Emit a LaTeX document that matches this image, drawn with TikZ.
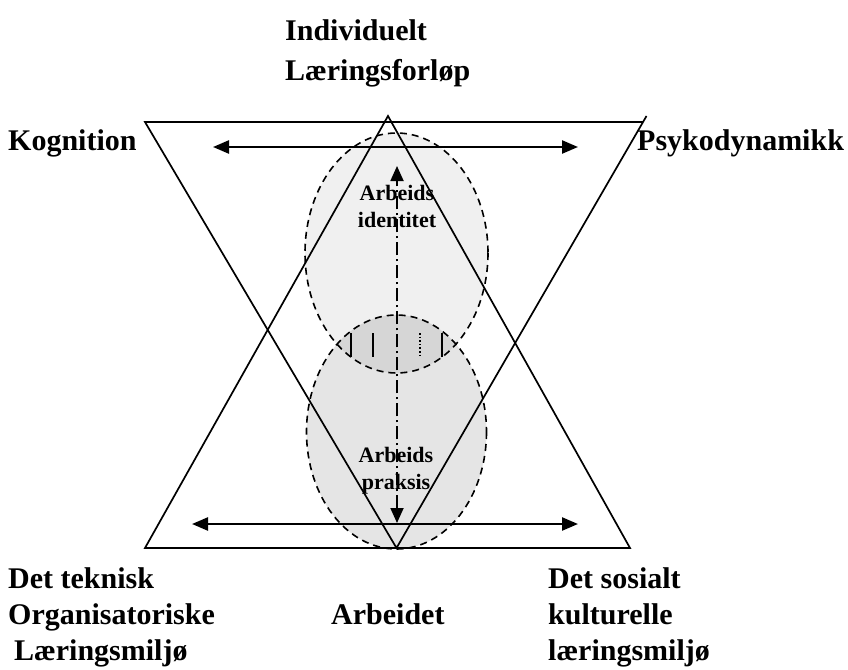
\documentclass[tikz,border=0pt]{standalone}
\usepackage{fontspec}
\setmainfont{Liberation Serif}
\usetikzlibrary{arrows.meta}
\begin{document}
\begin{tikzpicture}[x=1pt,y=-1pt,
  tri/.style={line width=1.7pt, line join=miter},
  dbl/.style={line width=2.4pt, {Triangle[length=16pt,width=13pt]}-{Triangle[length=16pt,width=13pt]}},
  vdbl/.style={line width=1.8pt, dash pattern=on 13pt off 4pt on 2pt off 4pt, {Triangle[length=15pt,width=13pt]}-{Triangle[length=15pt,width=13pt]}},
  ell/.style={dash pattern=on 7pt off 5pt, line width=1.6pt},
  lensline/.style={line width=1.6pt},
  big/.style={font=\bfseries\fontsize{30}{36}\selectfont, inner sep=0pt, anchor=base west},
  small/.style={font=\bfseries\fontsize{22}{27}\selectfont, inner sep=0pt, anchor=base}]
\useasboundingbox (0,0) rectangle (848,669);

% ellipse fills
\fill[gray!12] (396.5,253) ellipse [x radius=91.5, y radius=120];
\fill[gray!20] (396.5,432) ellipse [x radius=90, y radius=117];
\begin{scope}
  \clip (396.5,253) ellipse [x radius=91.5, y radius=120];
  \fill[gray!32] (396.5,432) ellipse [x radius=90, y radius=117];
\end{scope}
\draw[ell] (396.5,253) ellipse [x radius=91.5, y radius=120];
\draw[ell] (396.5,432) ellipse [x radius=90, y radius=117];

% lines inside the overlap
\draw[lensline] (351,333) -- (351,357);
\draw[lensline] (373,333) -- (373,357);
\draw[lensline, dotted] (420,333) -- (420,357);
\draw[lensline] (442,333) -- (442,357);

% triangles
\coordinate (TL) at (145,122);
\coordinate (TR) at (643,122);
\coordinate (TRx) at (646.5,116);
\coordinate (IA) at (396.5,548);
\coordinate (UA) at (388,116);
\coordinate (BL) at (145,548);
\coordinate (BR) at (630,548);
\draw[tri] (TR) -- (TL) -- (IA) -- (TRx);
\draw[tri] (BL) -- (UA) -- (BR) -- cycle;

% arrows
\coordinate (a1) at (213,147);
\coordinate (a2) at (578,147);
\coordinate (b1) at (192,524);
\coordinate (b2) at (578,524);
\coordinate (v1) at (397,523);
\coordinate (v2) at (397,166);
\draw[dbl] (a1) -- (a2);
\draw[dbl] (b1) -- (b2);
\draw[vdbl] (v1) -- (v2);

% texts
\node[big] (ind1) at (285,41) {Individuelt};
\node[big] (ind2) at (285,81) {Læringsforløp};
\node[big] (kog) at (8,150) {Kognition};
\node[big] (psy) at (637,150) {Psykodynamikk};
\node[big] (dt1) at (8,588) {Det teknisk};
\node[big] (dt2) at (8,624) {Organisatoriske};
\node[big] (dt3) at (14,660) {Læringsmiljø};
\node[big] (arb) at (331,624) {Arbeidet};
\node[big] (ds1) at (548,588) {Det sosialt};
\node[big] (ds2) at (548,624) {kulturelle};
\node[big] (ds3) at (548,660) {læringsmiljø};
\node[small] (ai1) at (397,200) {Arbeids};
\node[small] (ai2) at (397,227) {identitet};
\node[small] (ap1) at (396,462) {Arbeids};
\node[small] (ap2) at (396,489) {praksis};
\end{tikzpicture}
\end{document}
